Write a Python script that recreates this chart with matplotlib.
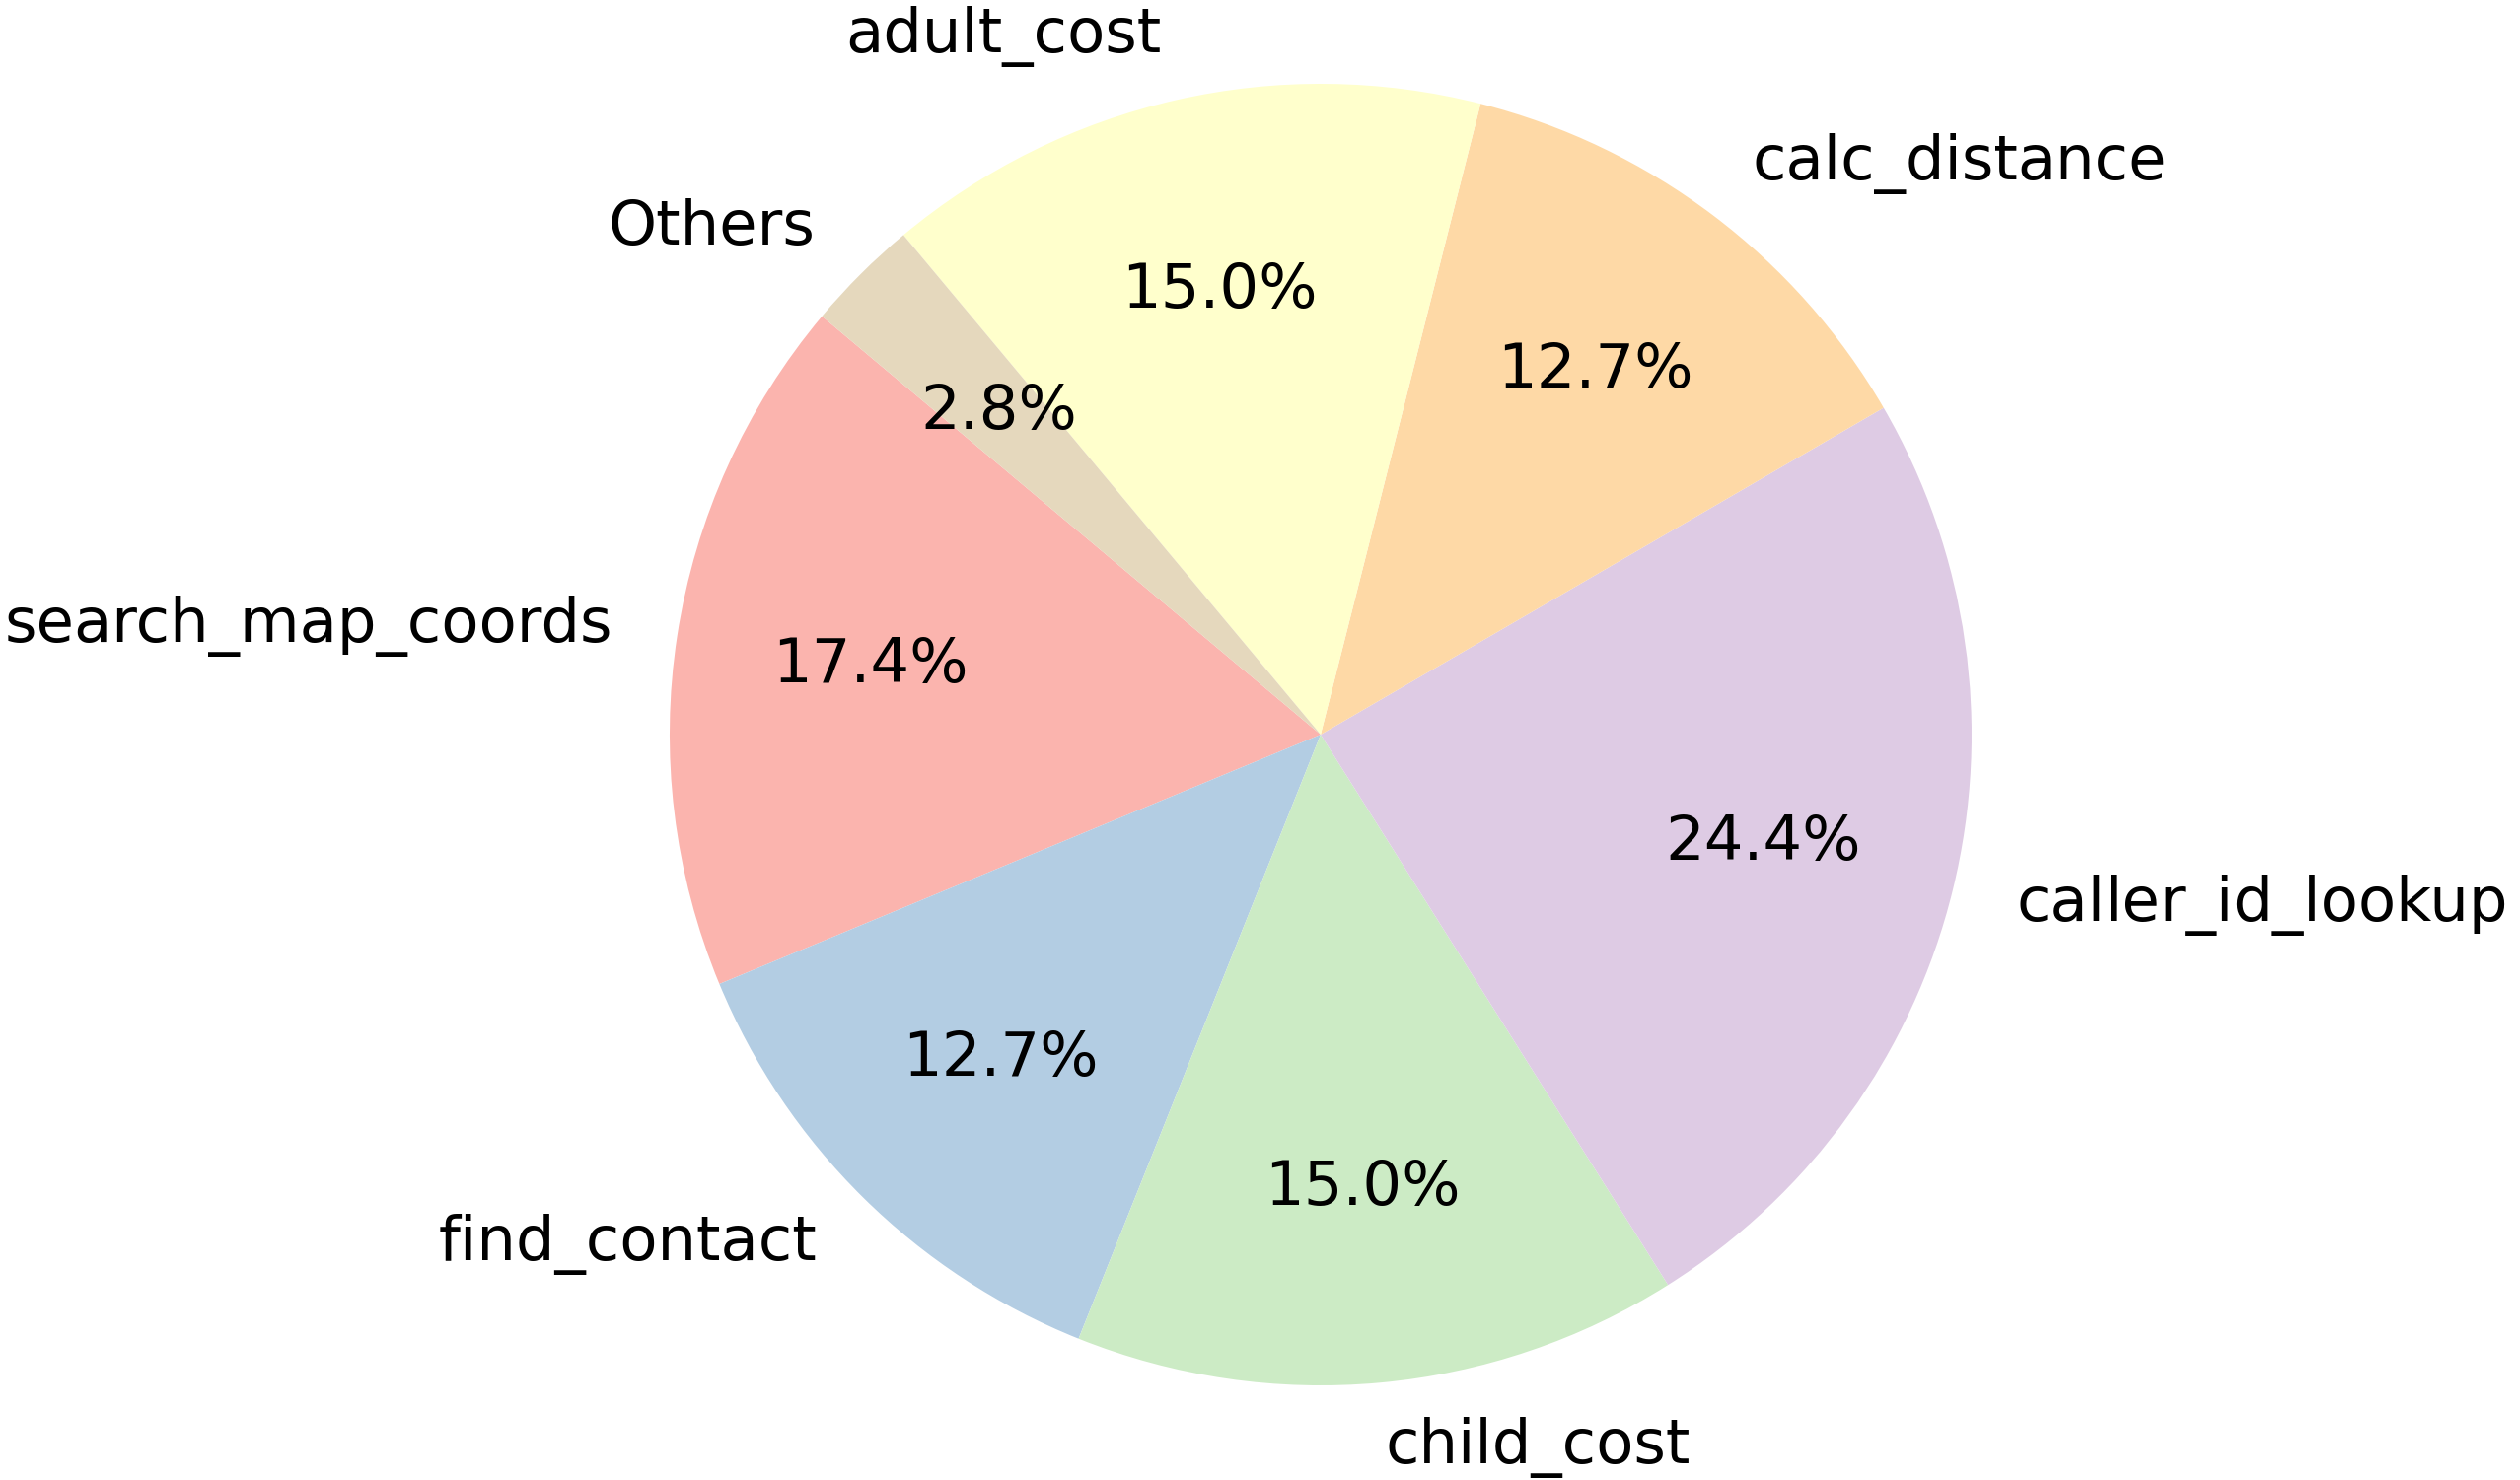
import matplotlib
matplotlib.use("Agg")
import matplotlib.pyplot as plt

# datos del pastel (conteos; los porcentajes salen de autopct)
etiquetas = ["search_map_coords", "find_contact", "child_cost", "caller_id_lookup",
             "calc_distance", "adult_cost", "Others"]
valores = [37, 27, 32, 52, 27, 32, 6]

colores = plt.cm.Pastel1.colors[:len(valores)]

plt.rcParams["font.family"] = ["DejaVu Sans"]

fig = plt.figure(figsize=(12.775, 7.505), dpi=200)
ax = fig.add_axes([0, 0, 1, 1])

ax.pie(valores,
       labels=etiquetas,
       colors=colores,
       autopct="%1.1f%%",
       startangle=140,
       pctdistance=0.7,
       labeldistance=1.1,
       textprops={"fontsize": 22.5})

# centro del pastel en (1339, 745) px, radio ~660 px
ax.set_xlim(-1339 / 660, (2555 - 1339) / 660)
ax.set_ylim(-(1501 - 745) / 660, 745 / 660)
ax.set_aspect("auto")
ax.axis("off")

fig.savefig("out.png", dpi=200)
plt.close(fig)
